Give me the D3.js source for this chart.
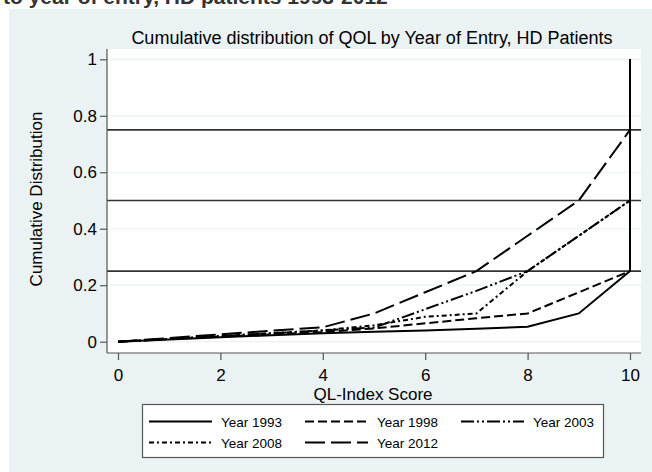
<!DOCTYPE html>
<html>
<head>
<meta charset="utf-8">
<script src="https://cdn.jsdelivr.net/npm/d3@7"></script>
<style>
  body { margin: 0; background: #fff; }
  svg { display: block; font-family: "Liberation Sans", Arial, sans-serif; }
</style>
</head>
<body>
<script>
// QL-index scores 0..10, plus the final jump to 1 at score 10
const scores = [0, 1, 2, 3, 4, 5, 6, 7, 8, 9, 10, 10]
const years = ['Year 1993', 'Year 1998', 'Year 2003', 'Year 2008', 'Year 2012']
const y1993 = [0, 0.008, 0.016, 0.023, 0.03, 0.035, 0.04, 0.046, 0.053, 0.10, 0.25, 1]
const y1998 = [0, 0.009, 0.018, 0.026, 0.034, 0.047, 0.065, 0.083, 0.10, 0.175, 0.25, 1]
const y2003 = [0, 0.01, 0.02, 0.03, 0.04, 0.05, 0.115, 0.18, 0.25, 0.375, 0.5, 1]
const y2008 = [0, 0.01, 0.02, 0.03, 0.04, 0.058, 0.088, 0.10, 0.25, 0.375, 0.5, 1]
const y2012 = [0, 0.013, 0.026, 0.039, 0.051, 0.10, 0.175, 0.25, 0.375, 0.5, 0.75, 1]
const xTicks = [0, 2, 4, 6, 8, 10]
const yTicks = [0, 0.2, 0.4, 0.6, 0.8, 1]
const yTickLabels = ['0', '0.2', '0.4', '0.6', '0.8', '1']
const refLines = [0.25, 0.5, 0.75]

const series = [y1993, y1998, y2003, y2008, y2012]
// line patterns, same order as years
const dashes = [null, '9,4', '13,3,2,3,2,3', '5,3,2,3', '20,6']

const width = 652
const height = 472
const bg = '#eaf2f3'

const svg = d3.select('body').append('svg')
  .attr('width', width)
  .attr('height', height)

// outer graph region
svg.append('rect')
  .attr('x', 9).attr('y', 9)
  .attr('width', width - 9).attr('height', height - 9)
  .attr('fill', bg)

// cut-off heading of the page above the chart
svg.append('text')
  .attr('x', 3).attr('y', 4)
  .attr('font-size', 21).attr('font-weight', 'bold')
  .attr('fill', '#333')
  .text('to year of entry, HD patients 1993-2012')

const plot = { left: 107, right: 641, top: 49, bottom: 353 }

const x = d3.scaleLinear().domain([0, 10]).range([118, 630])
const y = d3.scaleLinear().domain([0, 1]).range([341.7, 59.3])

svg.append('rect')
  .attr('x', plot.left).attr('y', plot.top)
  .attr('width', plot.right - plot.left).attr('height', plot.bottom - plot.top)
  .attr('fill', '#fff')

// grid lines
svg.append('g').selectAll('line')
  .data(yTicks)
  .enter().append('line')
  .attr('x1', plot.left).attr('x2', plot.right)
  .attr('y1', d => y(d)).attr('y2', d => y(d))
  .attr('stroke', bg).attr('stroke-width', 1.2)

// quartile reference lines
svg.append('g').selectAll('line')
  .data(refLines)
  .enter().append('line')
  .attr('x1', plot.left).attr('x2', plot.right)
  .attr('y1', d => y(d)).attr('y2', d => y(d))
  .attr('stroke', '#333').attr('stroke-width', 1.6)

// data lines
const line = d3.line()
  .x((d, i) => x(scores[i]))
  .y(d => y(d))

svg.append('g').selectAll('path')
  .data(series)
  .enter().append('path')
  .attr('d', line)
  .attr('fill', 'none')
  .attr('stroke', '#000')
  .attr('stroke-width', 2)
  .attr('stroke-dasharray', (d, i) => dashes[i])

// axes
const yAxis = svg.append('g')
  .attr('transform', `translate(${plot.left},0)`)
  .call(d3.axisLeft(y).tickValues(yTicks).tickFormat((d, i) => yTickLabels[i]).tickSize(7).tickPadding(3))
yAxis.select('.domain').attr('d', `M0,${plot.top}V${plot.bottom}`)

const xAxis = svg.append('g')
  .attr('transform', `translate(0,${plot.bottom})`)
  .call(d3.axisBottom(x).tickValues(xTicks).tickSize(7).tickPadding(9))
xAxis.select('.domain').attr('d', `M${plot.left},0H${plot.right}`)

svg.selectAll('.domain').attr('stroke', '#555').attr('stroke-width', 1.2)
svg.selectAll('.tick line').attr('stroke', '#555').attr('stroke-width', 1.2)
svg.selectAll('.tick text')
  .attr('font-family', '"Liberation Sans", Arial, sans-serif')
  .attr('font-size', 17).attr('fill', '#000')

// titles
svg.append('text')
  .attr('x', 372).attr('y', 44)
  .attr('text-anchor', 'middle')
  .attr('font-size', 18)
  .text('Cumulative distribution of QOL by Year of Entry, HD Patients')

svg.append('text')
  .attr('x', 373).attr('y', 400)
  .attr('text-anchor', 'middle')
  .attr('font-size', 17)
  .text('QL-Index Score')

svg.append('text')
  .attr('transform', 'translate(42,199) rotate(-90)')
  .attr('text-anchor', 'middle')
  .attr('font-size', 17)
  .text('Cumulative Distribution')

// legend
svg.append('rect')
  .attr('x', 142.5).attr('y', 404.5)
  .attr('width', 461).attr('height', 53)
  .attr('fill', '#fff').attr('stroke', '#555').attr('stroke-width', 1.2)

const colX = [149, 305, 461]
const rowY = [421.5, 442.5]
const items = svg.append('g').selectAll('g.item')
  .data(years)
  .enter().append('g')
  .attr('class', 'item')
  .attr('transform', (d, i) => `translate(${colX[i % 3]},${rowY[Math.floor(i / 3)]})`)

items.append('line')
  .attr('x1', 0).attr('x2', 63)
  .attr('stroke', '#000').attr('stroke-width', 1.9)
  .attr('stroke-dasharray', (d, i) => dashes[i])

items.append('text')
  .attr('x', 72).attr('y', 5)
  .attr('font-size', 13.5)
  .text(d => d)
</script>
</body>
</html>
